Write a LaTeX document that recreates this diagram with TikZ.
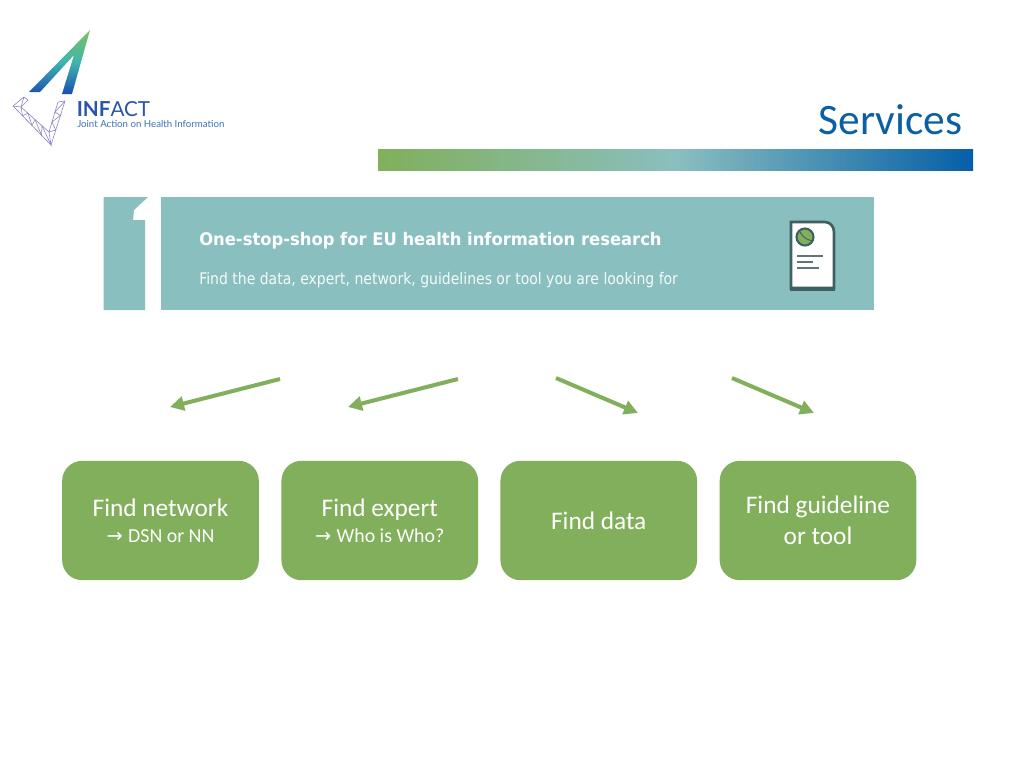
\documentclass[tikz,border=0pt]{standalone}
\usepackage{fontspec}
\setmainfont{Carlito}
\newfontfamily\bannerhfont[FakeStretch=0.945]{DejaVu Sans}
\newfontfamily\bannersfont[FakeStretch=0.875]{DejaVu Sans}
\newfontfamily\logofont{Lato}
\newfontfamily\arrowfont{DejaVu Sans}
\usetikzlibrary{arrows.meta}
\definecolor{boxgreen}{HTML}{81AF5B}
\definecolor{bannerteal}{HTML}{8ABFBF}
\definecolor{titleblue}{HTML}{0B5FA5}
\definecolor{barblue}{HTML}{055FA8}
\definecolor{icondark}{HTML}{3F5F60}
\definecolor{wire}{HTML}{8A86C4}
\definecolor{logoblue}{HTML}{2A55AE}
\definecolor{logosub}{HTML}{3D72B6}
\definecolor{logotop}{HTML}{7CC25C}
\definecolor{logomid}{HTML}{3FB5AE}
\definecolor{logobot}{HTML}{1A4FB2}
\newcommand{\subline}[1]{\fontsize{14.9pt}{19.5pt}\selectfont{\arrowfont\fontsize{14.5pt}{19.5pt}\selectfont →}\hspace{4pt}#1}
\tikzset{
  findbox/.style={fill=boxgreen,rounded corners=15pt,minimum width=147.5pt,minimum height=89.5pt,inner sep=0pt,text=white,align=center,anchor=center},
  findtwo/.style={findbox,font=\fontsize{19pt}{19.5pt}\selectfont},
  findlong/.style={findbox,font=\fontsize{19pt}{23pt}\selectfont},
  pointer/.style={draw=boxgreen,line width=3pt,-{Triangle[length=10.5pt,width=10.5pt]}},
  wireline/.style={draw=wire,line width=0.45pt},
  banner/.style={fill=bannerteal,draw=none},
  iconline/.style={draw=icondark!85!white,line width=1.5pt}
}
\begin{document}
\begin{tikzpicture}[x=0.75pt,y=-0.75pt]
\useasboundingbox (0,0) rectangle (1024,768);
\fill[white] (0,0) rectangle (1024,768);
% logo arrow
\path[top color=logotop,bottom color=logobot,middle color=logomid]
  (90,30) -- (72,94) -- (62,94) -- (74,55) -- (40,92) -- (29,92) -- cycle;
% wireframe
\draw[wireline] (13,106) -- (24,97) -- (28,100) -- (21,107) -- (49,132) -- (58,102) -- (65,101) -- (51,145) -- cycle;
\draw[wireline] (24,97) -- (21,107) (13,106) -- (21,107) -- (22.5,115.75) -- (28,113.25) -- (32,125.5) -- (35,119.5) -- (41.5,135.25) -- (42,125.75) -- (51,145) -- (49,132)
  -- (55.7,130) -- (52,122) -- (60.3,115.5) -- (55,112) -- (65,101);
% logo text
\node[anchor=base west,inner sep=0pt,font=\logofont\fontsize{15.5pt}{15.5pt}\selectfont,text=logoblue] (logoname) at (76.5,116) {\textbf{INF}ACT};
\node[anchor=base west,inner sep=0pt,font=\logofont\fontsize{7.25pt}{7.5pt}\selectfont,text=logosub] (logotag) at (77,127) {Joint Action on Health Information};
% title
\node[anchor=base east,inner sep=0pt,font=\fontsize{32.6pt}{33pt}\selectfont,text=titleblue] (title) at (962.5,134) {Services};
\path[left color=boxgreen,right color=barblue,middle color=bannerteal] (378,149) rectangle (973,170);
% banner
\fill[banner] (103.5,197) -- (148,197) -- (134,210) -- (133,220) -- (145,220) -- (145,310) -- (103.5,310) -- cycle;
\fill[banner] (161,197) rectangle (874,310);
\node[anchor=base west,inner sep=0pt,font=\bannerhfont\bfseries\fontsize{13pt}{13pt}\selectfont,text=white] (bannerhead) at (199,245) {One-stop-shop for EU health information research};
\node[anchor=base west,inner sep=0pt,font=\bannersfont\fontsize{12pt}{12pt}\selectfont,text=white!92!bannerteal] (bannersub) at (199,284) {Find the data, expert, network, guidelines or tool you are looking for};
% icon
\draw[fill=white,draw=icondark,line width=2pt] (791,222) -- (825,222) to[out=0,in=90] (834,232) -- (834,288) -- (791,288) -- cycle;
\draw[draw=icondark,line width=3pt] (790,288.5) -- (835,288.5);
\draw[fill=boxgreen,draw=icondark,line width=1.6pt] (805,237) circle (8.5);
\draw[draw=icondark,line width=0.7pt] (800,232) to[bend right=25] (813,241);
\draw[iconline] (797,255.5) -- (823,255.5) (797,262) -- (813,262) (797,268) -- (819,268);
% pointers
\coordinate (p1s) at (280,379); \coordinate (p1e) at (170,407);
\coordinate (p2s) at (458,379); \coordinate (p2e) at (348,407);
\coordinate (p3s) at (556,378); \coordinate (p3e) at (638,413);
\coordinate (p4s) at (732,378); \coordinate (p4e) at (814,413);
\draw[pointer] (p1s) -- (p1e);
\draw[pointer] (p2s) -- (p2e);
\draw[pointer] (p3s) -- (p3e);
\draw[pointer] (p4s) -- (p4e);
% boxes
\node[findtwo] (network) at (160.5,520.5) {Find network\\\subline{DSN or NN}};
\node[findtwo] (expert) at (379.75,520.5) {Find expert\\\subline{Who is Who?}};
\node[findbox,font=\fontsize{19pt}{23pt}\selectfont] (data) at (598.75,520.5) {Find data};
\node[findlong] (guide) at (818,520.5) {Find guideline\\or tool};
\end{tikzpicture}
\end{document}
